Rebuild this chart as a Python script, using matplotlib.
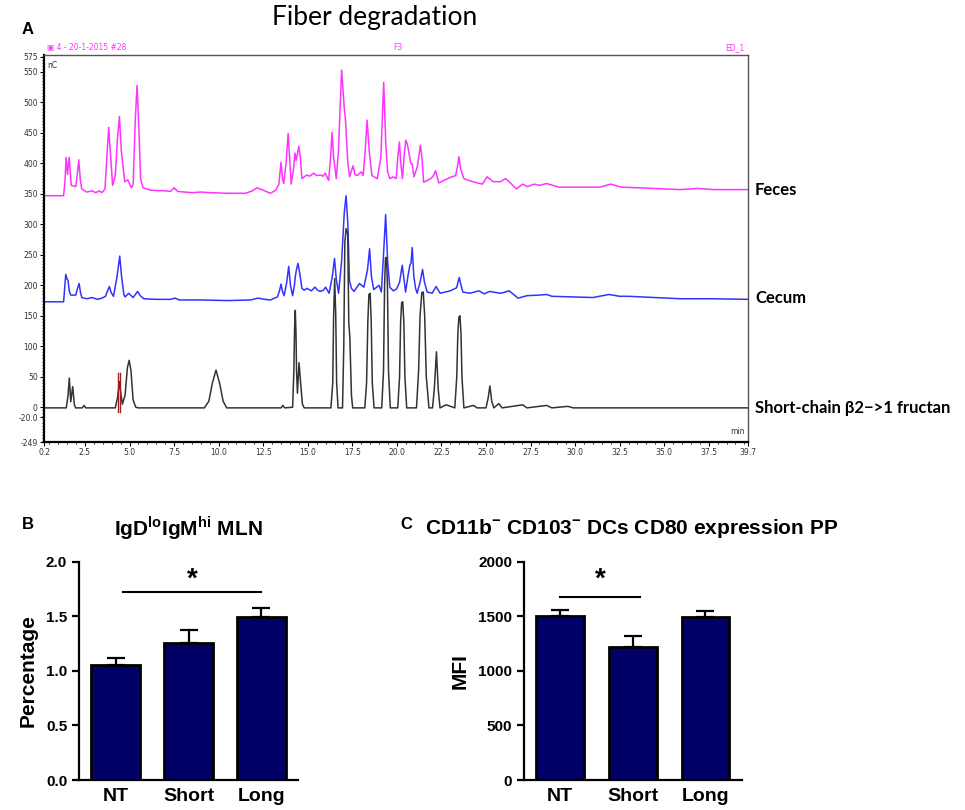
import matplotlib.pyplot as plt
import matplotlib.transforms as mtransforms
from matplotlib.ticker import MultipleLocator

plt.rcParams['mathtext.fontset'] = 'custom'
plt.rcParams['mathtext.bf'] = 'Liberation Sans:bold'
plt.rcParams['mathtext.rm'] = 'Liberation Sans:bold'

# chromatogram traces (time in min, signal in nC)
feces_time = [0.2, 1.3, 1.38, 1.44, 1.52, 1.61, 1.73, 1.98, 2.06, 2.15, 2.24, 2.32, 2.6, 2.9, 3.1, 3.3, 3.45, 3.62,
              3.75, 3.83, 3.92, 4.05, 4.2, 4.32, 4.43, 4.54, 4.73, 4.9, 5.1, 5.2, 5.32, 5.42, 5.52, 5.62, 5.75, 6.2,
              7.0, 7.3, 7.5, 7.7, 8.5, 9.0, 9.5, 10.5, 11.5, 11.9, 12.15, 12.5, 12.9, 13.2, 13.38, 13.5, 13.58, 13.65,
              13.78, 13.9, 14.0, 14.07, 14.2, 14.28, 14.35, 14.5, 14.58, 14.67, 14.8, 14.95, 15.1, 15.33, 15.5, 15.7,
              15.85, 15.98, 16.17, 16.28, 16.36, 16.45, 16.6, 16.72, 16.9, 17.05, 17.12, 17.25, 17.35, 17.54, 17.65,
              17.76, 18.0, 18.11, 18.22, 18.33, 18.45, 18.6, 18.9, 19.1, 19.26, 19.38, 19.48, 19.6, 19.8, 19.96,
              20.05, 20.14, 20.22, 20.31, 20.4, 20.5, 20.6, 20.67, 20.78, 20.86, 20.96, 21.15, 21.32, 21.42, 21.5,
              21.7, 21.9, 22.05, 22.17, 22.35, 22.63, 23.0, 23.3, 23.4, 23.48, 23.58, 23.76, 24.04, 24.5, 24.8, 25.06,
              25.4, 25.8, 26.1, 26.4, 26.7, 27.05, 27.35, 27.7, 28.0, 28.4, 29.1, 30.3, 31.4, 32.0, 32.6, 34.4, 35.9,
              36.9, 37.8, 38.6, 39.7]
feces_signal = [347, 347, 372, 410, 382, 410, 364, 362, 380, 406, 372, 358, 353, 355, 352, 355, 352, 358,
                420, 459, 420, 364, 380, 440, 477, 420, 370, 373, 360, 365, 470, 528, 460, 375, 360, 356,
                355, 354, 360, 354, 352, 353, 352, 351, 351, 355, 360, 356, 351, 356, 366, 402, 375, 367,
                400, 449, 400, 366, 390, 417, 405, 428, 410, 375, 378, 381, 379, 384, 380, 381,
                379, 384, 372, 410, 451, 410, 375, 420, 553, 490, 470, 400, 378, 396, 382,
                380, 386, 380, 420, 471, 420, 380, 375, 410, 533, 430, 386, 375, 378, 375,
                410, 435, 400, 375, 410, 438, 430, 418, 400, 399, 378, 395, 430, 405, 369,
                372, 375, 380, 388, 368, 372, 377, 380, 395, 411, 390, 375, 372, 368, 366, 378,
                370, 370, 375, 367, 358, 366, 362, 366, 364, 367, 361, 361, 361, 366, 361, 359, 357,
                359, 357, 357, 357]

cecum_time = [0.2, 1.3, 1.36, 1.42, 1.5, 1.55, 1.62, 1.7, 1.98, 2.08, 2.17, 2.25, 2.32, 2.6, 2.9, 3.2, 3.45, 3.65,
              3.78, 3.87, 3.97, 4.1, 4.3, 4.45, 4.55, 4.68, 4.75, 4.95, 5.2, 5.45, 5.6, 5.8, 6.5, 7.3, 7.55, 7.8,
              9.0, 10.5, 11.8, 12.2, 12.6, 12.9, 13.3, 13.42, 13.5, 13.58, 13.67, 13.82, 13.93, 14.03, 14.15, 14.25,
              14.3, 14.36, 14.45, 14.55, 14.67, 14.8, 14.95, 15.2, 15.4, 15.55, 15.7, 15.88, 16.0, 16.2, 16.38, 16.5,
              16.6, 16.73, 16.9, 17.05, 17.15, 17.25, 17.34, 17.45, 17.6, 17.9, 18.15, 18.35, 18.47, 18.57, 18.7,
              19.0, 19.13, 19.25, 19.37, 19.48, 19.6, 19.8, 19.98, 20.15, 20.3, 20.4, 20.49, 20.62, 20.73, 20.79,
              20.86, 20.95, 21.05, 21.14, 21.3, 21.44, 21.55, 21.7, 21.98, 22.2, 22.43, 23.0, 23.35, 23.5, 23.6,
              23.7, 24.1, 24.6, 24.9, 25.2, 25.6, 25.85, 26.3, 26.8, 27.3, 28.0, 28.4, 28.7, 29.9, 31.0, 31.9, 32.5,
              33.0, 34.4, 35.9, 37.7, 39.7]
cecum_signal = [173, 173, 195, 218, 210, 208, 190, 184, 184, 195, 203, 188, 180, 178, 180, 177, 179, 182,
                192, 198, 188, 182, 215, 248, 215, 185, 181, 187, 180, 190, 183, 178, 177, 177, 179, 176,
                176, 175, 176, 179, 177, 176, 181, 192, 202, 190, 183, 205, 231, 200, 183, 200,
                214, 225, 236, 220, 195, 192, 195, 191, 197, 192, 190, 192, 197, 187, 215, 244,
                210, 187, 240, 320, 347, 300, 208, 195, 190, 203, 197, 225, 260, 215, 193,
                200, 189, 250, 316, 240, 197, 191, 194, 205, 233, 210, 189, 215, 233, 236,
                262, 215, 195, 187, 205, 226, 205, 189, 187, 198, 187, 191, 196, 213, 200,
                189, 187, 191, 186, 190, 188, 187, 191, 179, 183, 184, 185, 182, 181, 180, 185, 182,
                182, 180, 178, 178, 177]

standard_time = [0.2, 1.45, 1.55, 1.62, 1.7, 1.81, 1.9, 1.97, 2.35, 2.45, 2.55, 4.2, 4.32, 4.43, 4.52, 4.6, 4.75,
                 4.88, 4.98, 5.08, 5.2, 5.35, 5.5, 9.2, 9.45, 9.65, 9.85, 10.05, 10.25, 10.45, 13.5, 13.6, 13.7,
                 14.15, 14.22, 14.26, 14.3, 14.34, 14.37, 14.42, 14.51, 14.6, 14.7, 14.8,
                 16.3, 16.4, 16.45, 16.51, 16.57, 16.62, 16.7, 16.95,
                 17.02, 17.08, 17.15, 17.24, 17.3, 17.36, 17.45, 17.52,
                 18.2, 18.3, 18.37, 18.43, 18.5, 18.56, 18.62, 18.72,
                 19.15, 19.25, 19.31, 19.36, 19.42, 19.47, 19.53, 19.63,
                 20.05, 20.15, 20.21, 20.27, 20.33, 20.39, 20.45, 20.55,
                 21.1, 21.22, 21.3, 21.4, 21.48, 21.56, 21.65, 21.8,
                 22.0, 22.1, 22.22, 22.32, 22.42, 22.77,
                 23.25, 23.36, 23.42, 23.48, 23.54, 23.6, 23.65, 23.76,
                 24.3, 24.5, 25.0, 25.12, 25.22, 25.32, 25.44, 25.72, 25.9, 27.06, 27.3, 28.4, 28.7, 29.6,
                 29.9, 39.7]
standard_signal = [-1, -1, 20, 48, 9, 34, 5, -1, -1, 3, -1, -1, 15, 42, 20, 5, 20,
                   65, 77, 60, 12, 0, -1, -1, 10, 40, 61, 40, 10, -1, -1, 3, -1,
                   0, 60, 130, 159, 120, 60, 23, 73, 40, 5, -1,
                   -1, 40, 150, 211, 150, 40, -1, -1,
                   100, 270, 293, 285, 140, 115, 20, -1,
                   -1, 40, 140, 185, 187, 140, 40, -1,
                   -1, 60, 200, 245, 246, 200, 60, -1,
                   -1, 50, 140, 172, 173, 140, 50, -1,
                   -1, 60, 150, 188, 189, 150, 50, -1,
                   -1, 30, 91, 30, -1, 4,
                   -1, 50, 120, 148, 150, 120, 50, -1,
                   3, -1, -1, 15, 35, 10, -1, 6, -1, 4, -1, 3, -1, 1.5,
                   -1, -1]
marker_times = [4.38, 4.46]

trace_labels = ['Feces', 'Cecum', 'Short-chain \u03b22\u2212>1 fructan']
trace_label_y = [356, 179, -1]

# bar panels
groups = ['NT', 'Short', 'Long']
igd_mean = [1.05, 1.26, 1.49]
igd_sem = [0.065, 0.115, 0.09]
cd80_mean = [1500, 1216, 1495]
cd80_sem = [57, 100, 58]

fig = plt.figure(figsize=(9.65, 8.1), dpi=100)

# ---------------- panel A ----------------
ax = fig.add_axes([0.0456, 0.4543, 0.7295, 0.4772])
ax.plot(feces_time, feces_signal, color='#ff33ff', lw=1.1)
ax.plot(cecum_time, cecum_signal, color='#3333ff', lw=1.1)
ax.plot(standard_time, standard_signal, color='#333333', lw=1.1)
for t in marker_times:
    ax.plot([t, t], [-7, 56], color='#a02020', lw=1.0)
ax.set_xlim(0.2, 39.7)
ax.set_ylim(-57, 577)
xt = [0.2] + [2.5 * i for i in range(1, 16)] + [39.7]
ax.set_xticks(xt)
ax.set_xticklabels(['%.1f' % v for v in xt])
ax.xaxis.set_minor_locator(MultipleLocator(0.5))
yt = [-57, -16, 0, 50, 100, 150, 200, 250, 300, 350, 400, 450, 500, 550, 575]
ax.set_yticks(yt)
ax.set_yticklabels(['-249', '-20.0'] + [str(v) for v in yt[2:]])
ax.yaxis.set_minor_locator(MultipleLocator(5))
ax.tick_params(which='major', labelsize=5.5, labelcolor='#333333', length=3, width=0.8, pad=1.5)
ax.tick_params(which='minor', length=1.5, width=0.6)
ax.spines['left'].set_linewidth(1.6)
ax.spines['bottom'].set_linewidth(1.6)
for s in ['top', 'right']:
    ax.spines[s].set_color('#555555')
    ax.spines[s].set_linewidth(1.0)
ax.text(0.004, 0.985, 'nC', transform=ax.transAxes, fontsize=5.5, color='#333333', va='top')
ax.text(0.995, 0.015, 'min', transform=ax.transAxes, fontsize=5.5, color='#333333', ha='right', va='bottom')
ax.text(0.004, 1.008, '\u25a3 4 - 20-1-2015 #28', transform=ax.transAxes, fontsize=5.5, color='#ff33ff', va='bottom')
ax.text(0.502, 1.008, 'F3', transform=ax.transAxes, fontsize=5.5, color='#ff33ff', va='bottom', ha='center')
ax.text(0.995, 1.008, 'ED_1', transform=ax.transAxes, fontsize=5.5, color='#ff33ff', va='bottom', ha='right')
trans = mtransforms.blended_transform_factory(ax.transAxes, ax.transData)
for lab, yv in zip(trace_labels, trace_label_y):
    ax.text(1.01, yv, lab, transform=trans, fontsize=12, fontweight='bold', family='Lato', va='center')

fig.text(0.282, 0.979, 'Fiber degradation', fontsize=19, family='Lato', va='center')
fig.text(0.022, 0.963, 'A', fontsize=12, fontweight='bold', family='Liberation Sans', va='center')


def bar_panel(rect, means, sems, ylim, step, ylabel, fmt, sig_x, sig_y, star_y):
    bx = fig.add_axes(rect)
    x = list(range(len(groups)))
    bx.bar(x, means, width=0.66, color='#000066', edgecolor='black', linewidth=2, zorder=2)
    bx.errorbar(x, means, yerr=[[0] * len(sems), sems], fmt='none', ecolor='black',
                elinewidth=1.6, capsize=6.5, capthick=1.6, zorder=1)
    bx.plot(sig_x, [sig_y, sig_y], color='black', lw=1.5)
    bx.text(sum(sig_x) / 2, star_y, '*', ha='center', va='center', fontsize=20,
            fontweight='bold', family='Liberation Sans')
    bx.set_xlim(-0.5, 2.5)
    bx.set_ylim(*ylim)
    bx.set_yticks([ylim[0] + step * i for i in range(5)])
    bx.set_yticklabels([fmt % (ylim[0] + step * i) for i in range(5)])
    bx.set_xticks(x)
    bx.set_xticklabels(groups)
    for s in ['top', 'right']:
        bx.spines[s].set_visible(False)
    for s in ['left', 'bottom']:
        bx.spines[s].set_linewidth(1.6)
    bx.tick_params(axis='y', length=5, width=1.6, labelsize=11)
    bx.tick_params(axis='x', length=0, labelsize=14, pad=6)
    for lab in bx.get_xticklabels() + bx.get_yticklabels():
        lab.set_fontweight('bold')
        lab.set_family('Liberation Sans')
    bx.set_ylabel(ylabel, fontsize=15, fontweight='bold', family='Liberation Sans', labelpad=6)
    return bx


bar_panel([0.0819, 0.037, 0.2269, 0.2695], igd_mean, igd_sem, (0, 2.0), 0.5, 'Percentage', '%.1f',
          [0.1, 2.0], 1.72, 1.84)
bar_panel([0.543, 0.037, 0.2257, 0.2695], cd80_mean, cd80_sem, (0, 2000), 500, 'MFI', '%d',
          [0.0, 1.1], 1680, 1840)

fig.text(0.195, 0.348, r'IgD$^{\mathbf{lo}}$IgM$^{\mathbf{hi}}$ MLN', ha='center', va='center',
         fontsize=15, fontweight='bold', family='Liberation Sans')
fig.text(0.023, 0.353, 'B', fontsize=12, fontweight='bold', family='Liberation Sans', va='center')
fig.text(0.44, 0.348, r'CD11b$^{\mathbf{-}}$ CD103$^{\mathbf{-}}$ DCs CD80 expression PP', ha='left',
         va='center', fontsize=15, fontweight='bold', family='Liberation Sans')
fig.text(0.415, 0.353, 'C', fontsize=12, fontweight='bold', family='Liberation Sans', va='center')

fig.savefig('out.png', dpi=100)
